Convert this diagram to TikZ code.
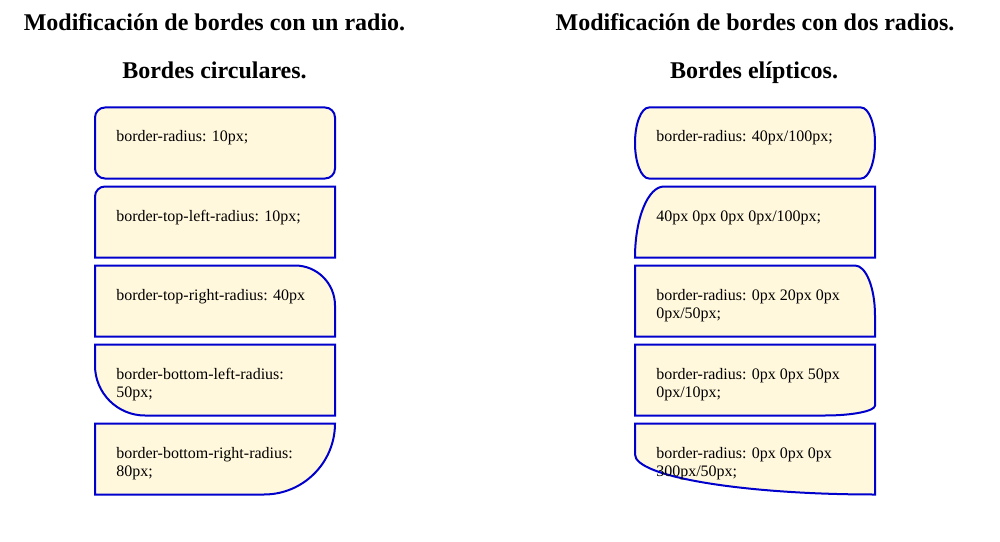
\documentclass[tikz,border=0pt]{standalone}
\usepackage{fontspec}
\setmainfont{Liberation Serif}
\definecolor{boxfill}{RGB}{255,248,220}
\definecolor{boxline}{RGB}{0,0,205}
\begin{document}
\begin{tikzpicture}[x=0.75pt,y=-0.75pt,
  cssbox/.style={draw=boxline,fill=boxfill,line width=1.5pt},
  boxtext/.style={anchor=base west,inner sep=0pt,font=\fontsize{12pt}{13.75pt}\selectfont},
  titletext/.style={anchor=base,inner sep=0pt,font=\fontsize{18pt}{21pt}\selectfont\bfseries}]
\useasboundingbox[fill=white] (0,0) rectangle (1000,542);

% titles
\node[titletext] (tl1) at (214.5,31) {Modificación de bordes con un radio.};
\node[titletext] (tl2) at (214.5,79) {Bordes circulares.};
\node[titletext] (tr1) at (755,31) {Modificación de bordes con dos radios.};
\node[titletext] (tr2) at (754,79) {Bordes elípticos.};

% left column
\draw[cssbox] (105,107.5) -- (325,107.5) arc[start angle=270,end angle=360,radius=10]
  -- (335,168.5) arc[start angle=0,end angle=90,radius=10]
  -- (105,178.5) arc[start angle=90,end angle=180,radius=10]
  -- (95,117.5) arc[start angle=180,end angle=270,radius=10] -- cycle;
\draw[cssbox] (105,186.5) -- (335,186.5) -- (335,257.5) -- (95,257.5)
  -- (95,196.5) arc[start angle=180,end angle=270,radius=10] -- cycle;
\draw[cssbox] (95,265.5) -- (295,265.5) arc[start angle=270,end angle=360,radius=40]
  -- (335,336.5) -- (95,336.5) -- cycle;
\draw[cssbox] (95,344.5) -- (335,344.5) -- (335,415.5) -- (145,415.5)
  arc[start angle=90,end angle=180,radius=50] -- cycle;
\draw[cssbox] (95,423.5) -- (335,423.5) arc[start angle=0,end angle=90,radius=71]
  -- (95,494.5) -- cycle;

\node[boxtext] (l1) at (116,142) {border-radius: 10px;};
\node[boxtext] (l2) at (116,221) {border-top-left-radius: 10px;};
\node[boxtext] (l3) at (116,300) {border-top-right-radius: 40px};
\node[boxtext] (l4) at (116,379) {\begin{tabular}[t]{@{}l@{}}border-bottom-left-radius:\\50px;\end{tabular}};
\node[boxtext] (l5) at (116,458) {\begin{tabular}[t]{@{}l@{}}border-bottom-right-radius:\\80px;\end{tabular}};

% right column
\draw[cssbox] (649,107.5) -- (861,107.5) arc[start angle=270,end angle=360,x radius=14,y radius=35.5]
  arc[start angle=0,end angle=90,x radius=14,y radius=35.5]
  -- (649,178.5) arc[start angle=90,end angle=180,x radius=14,y radius=35.5]
  arc[start angle=180,end angle=270,x radius=14,y radius=35.5] -- cycle;
\draw[cssbox] (664,186.5) -- (875,186.5) -- (875,257.5) -- (635,257.5)
  arc[start angle=180,end angle=270,x radius=29,y radius=71] -- cycle;
\draw[cssbox] (635,265.5) -- (855,265.5) arc[start angle=270,end angle=360,x radius=20,y radius=50]
  -- (875,336.5) -- (635,336.5) -- cycle;
\draw[cssbox] (635,344.5) -- (875,344.5) -- (875,405.5)
  arc[start angle=0,end angle=90,x radius=50,y radius=10] -- (635,415.5) -- cycle;
\draw[cssbox] (635,423.5) -- (875,423.5) -- (875,494.5)
  arc[start angle=90,end angle=180,x radius=240,y radius=40] -- cycle;

\node[boxtext] (r1) at (656,142) {border-radius: 40px/100px;};
\node[boxtext] (r2) at (656,221) {40px 0px 0px 0px/100px;};
\node[boxtext] (r3) at (656,300) {\begin{tabular}[t]{@{}l@{}}border-radius: 0px 20px 0px\\0px/50px;\end{tabular}};
\node[boxtext] (r4) at (656,379) {\begin{tabular}[t]{@{}l@{}}border-radius: 0px 0px 50px\\0px/10px;\end{tabular}};
\node[boxtext] (r5) at (656,458) {\begin{tabular}[t]{@{}l@{}}border-radius: 0px 0px 0px\\300px/50px;\end{tabular}};
\end{tikzpicture}
\end{document}
